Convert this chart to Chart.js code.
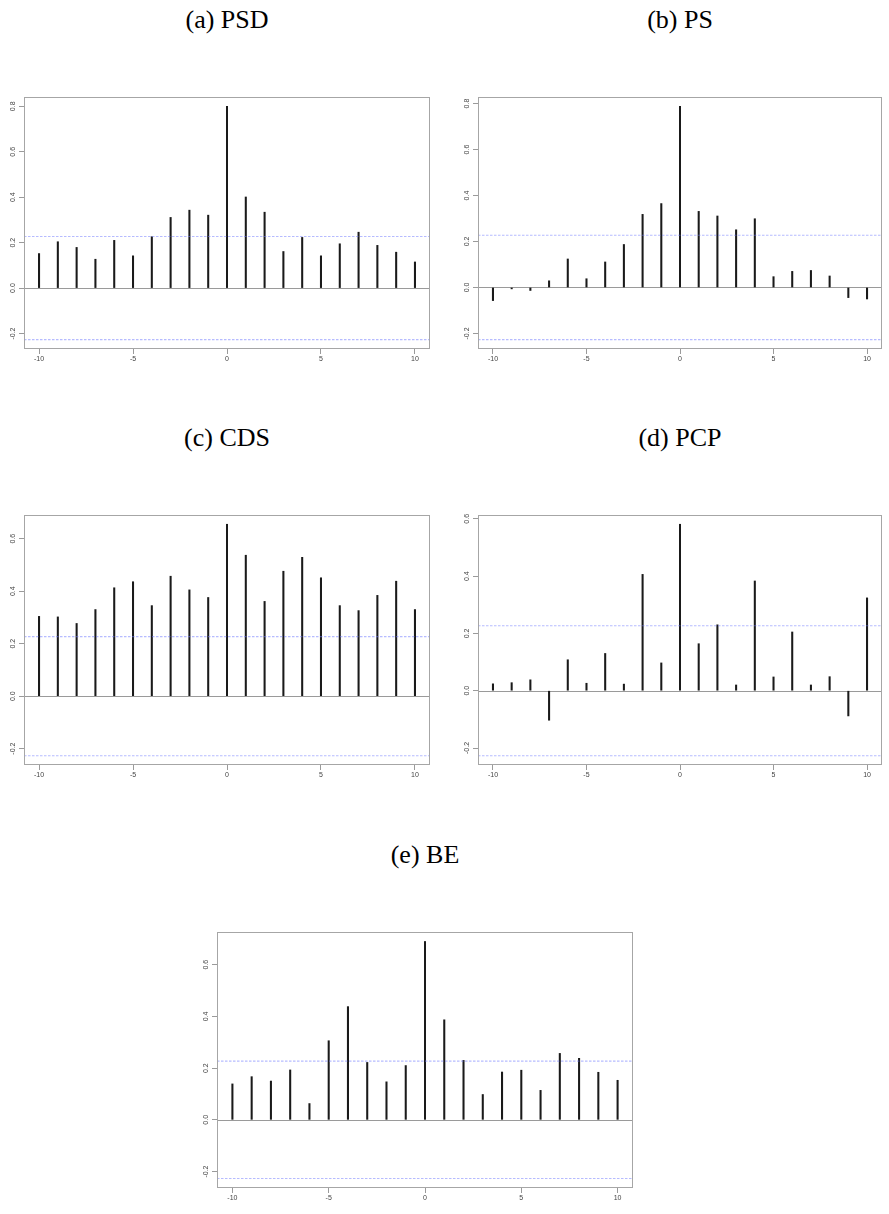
<!DOCTYPE html>
<html>
<head>
<meta charset="utf-8">
<script src="https://cdn.jsdelivr.net/npm/chart.js@4.4.1/dist/chart.umd.min.js"></script>
<style>
    html, body { margin: 0; padding: 0; background: #fff; }
    #page { position: relative; width: 889px; height: 1214px; overflow: hidden; }
    .panel-title { position: absolute; width: 300px; text-align: center; font-family: "Liberation Serif", "DejaVu Serif", serif; font-size: 26px; line-height: 28px; color: #000; }
    canvas { position: absolute; }
</style>
</head>
<body>
<div id="page"></div>
<script>
// ===== Cross-correlation panels, lags -10..10 =====

var lags = [-10, -9, -8, -7, -6, -5, -4, -3, -2, -1, 0, 1, 2, 3, 4, 5, 6, 7, 8, 9, 10];

var psdValues = [0.152, 0.204, 0.179, 0.127, 0.210, 0.142, 0.226, 0.311, 0.343, 0.321, 0.800, 0.401, 0.334, 0.161, 0.223, 0.142, 0.195, 0.246, 0.188, 0.158, 0.115];
var psValues  = [-0.057, -0.006, -0.013, 0.029, 0.124, 0.038, 0.111, 0.187, 0.318, 0.365, 0.788, 0.331, 0.311, 0.251, 0.299, 0.047, 0.070, 0.074, 0.050, -0.044, -0.050];
var cdsValues = [0.304, 0.302, 0.277, 0.330, 0.413, 0.436, 0.345, 0.457, 0.405, 0.376, 0.655, 0.537, 0.361, 0.476, 0.529, 0.451, 0.345, 0.326, 0.384, 0.438, 0.330];
var pcpValues = [0.024, 0.028, 0.038, -0.103, 0.108, 0.026, 0.130, 0.023, 0.406, 0.097, 0.581, 0.164, 0.230, 0.020, 0.383, 0.048, 0.205, 0.020, 0.049, -0.088, 0.324];
var beValues  = [0.139, 0.167, 0.150, 0.193, 0.063, 0.306, 0.438, 0.222, 0.147, 0.210, 0.690, 0.387, 0.230, 0.098, 0.185, 0.192, 0.114, 0.257, 0.238, 0.184, 0.153];

var titles = ['(a) PSD', '(b) PS', '(c) CDS', '(d) PCP', '(e) BE'];
var confBound = 0.227;

var xTickValues = [-10, -5, 0, 5, 10];
var yTicksHigh = [-0.2, 0.0, 0.2, 0.4, 0.6, 0.8];
var yTicksLow = [-0.2, 0.0, 0.2, 0.4, 0.6];

(function() {
    'use strict';

    var AX_W = 24, AX_H = 22, PAD_TOP = 6, PAD_RIGHT = 1;
    var FONT = { family: 'Liberation Sans, Arial, sans-serif', size: 7 };

    // plot boxes: left, top, right, bottom
    var boxes = [
        [24, 97, 430, 349],
        [478, 97, 882, 349],
        [24, 515, 430, 765],
        [478, 515, 882, 765],
        [217, 932, 633, 1188]
    ];
    var series = [psdValues, psValues, cdsValues, pcpValues, beValues];
    var yTickSets = [yTicksHigh, yTicksHigh, yTicksLow, yTicksLow, yTicksLow];

    // R-style box, zero line and dashed bounds
    var frame = {
        id: 'frame',
        beforeDatasetsDraw: function(chart) {
            var ctx = chart.ctx, a = chart.chartArea, y = chart.scales.y;
            ctx.save();
            ctx.strokeStyle = '#9a9a9a';
            ctx.lineWidth = 1;
            ctx.beginPath();
            var y0 = Math.round(y.getPixelForValue(0)) + 0.5;
            ctx.moveTo(a.left, y0); ctx.lineTo(a.right, y0);
            ctx.stroke();
            ctx.restore();
        },
        afterDatasetsDraw: function(chart) {
            var ctx = chart.ctx, a = chart.chartArea, y = chart.scales.y;
            ctx.save();
            ctx.strokeStyle = 'rgba(110,120,255,0.5)';
            ctx.lineWidth = 1.1;
            ctx.setLineDash([2.5, 1.5]);
            var bounds = [confBound, -confBound];
            for (var i = 0; i < bounds.length; i++) {
                var py = y.getPixelForValue(bounds[i]);
                ctx.beginPath();
                ctx.moveTo(a.left, py); ctx.lineTo(a.right, py);
                ctx.stroke();
            }
            ctx.setLineDash([]);
            ctx.strokeStyle = '#a6a6a6';
            ctx.lineWidth = 1;
            ctx.strokeRect(a.left + 0.5, a.top + 0.5, a.right - a.left - 1, a.bottom - a.top - 1);
            ctx.restore();
        }
    };

    function yRange(vals) {
        var lo = -confBound, hi = confBound;
        for (var i = 0; i < vals.length; i++) {
            if (vals[i] < lo) lo = vals[i];
            if (vals[i] > hi) hi = vals[i];
        }
        var pad = (hi - lo) * 0.04;
        return [lo - pad, hi + pad];
    }

    function buildPanel(page, idx) {
        var b = boxes[idx];
        var vals = series[idx];
        var w = b[2] - b[0] + AX_W + PAD_RIGHT;
        var h = b[3] - b[1] + PAD_TOP + AX_H;

        var title = document.createElement('div');
        title.className = 'panel-title';
        title.textContent = titles[idx];
        title.style.left = ((b[0] + b[2]) / 2 - 150) + 'px';
        title.style.top = (b[1] - 77 - 14) + 'px';
        page.appendChild(title);

        var canvas = document.createElement('canvas');
        canvas.width = w; canvas.height = h;
        canvas.style.left = (b[0] - AX_W) + 'px';
        canvas.style.top = (b[1] - PAD_TOP) + 'px';
        canvas.style.width = w + 'px'; canvas.style.height = h + 'px';
        page.appendChild(canvas);

        var points = [];
        for (var i = 0; i < lags.length; i++) points.push({ x: lags[i], y: vals[i] });
        var yr = yRange(vals);
        var yTicks = yTickSets[idx];

        new Chart(canvas, {
            type: 'bar',
            data: { datasets: [{ data: points, backgroundColor: '#1a1a1a', barThickness: 1.4, grouped: false }] },
            options: {
                responsive: false, animation: false, devicePixelRatio: 1,
                layout: { padding: { top: PAD_TOP, right: PAD_RIGHT, left: 0, bottom: 0 } },
                plugins: { legend: { display: false }, tooltip: { enabled: false } },
                scales: {
                    x: {
                        type: 'linear', min: -10.8, max: 10.8, offset: false,
                        afterBuildTicks: function(s) { s.ticks = xTickValues.map(function(v) { return { value: v }; }); },
                        afterFit: function(s) { s.height = AX_H; },
                        grid: { display: true, offset: false, drawOnChartArea: false, drawTicks: true, tickLength: 5, color: '#9a9a9a' },
                        border: { display: false },
                        ticks: { font: FONT, color: '#444', padding: 1, maxRotation: 0, autoSkip: false }
                    },
                    y: {
                        type: 'linear', min: yr[0], max: yr[1],
                        afterBuildTicks: function(s) { s.ticks = yTicks.map(function(v) { return { value: v }; }); },
                        afterFit: function(s) { s.width = AX_W; },
                        grid: { display: true, drawOnChartArea: false, drawTicks: true, tickLength: 5, color: '#9a9a9a' },
                        border: { display: false },
                        ticks: {
                            font: FONT, color: '#444', padding: 0, autoSkip: false,
                            minRotation: 90, maxRotation: 90, crossAlign: 'center',
                            callback: function(v) { return v.toFixed(1); }
                        }
                    }
                }
            },
            plugins: [frame]
        });
    }

    var page = document.getElementById('page');
    for (var p = 0; p < boxes.length; p++) buildPanel(page, p);
})();
</script>
</body>
</html>
